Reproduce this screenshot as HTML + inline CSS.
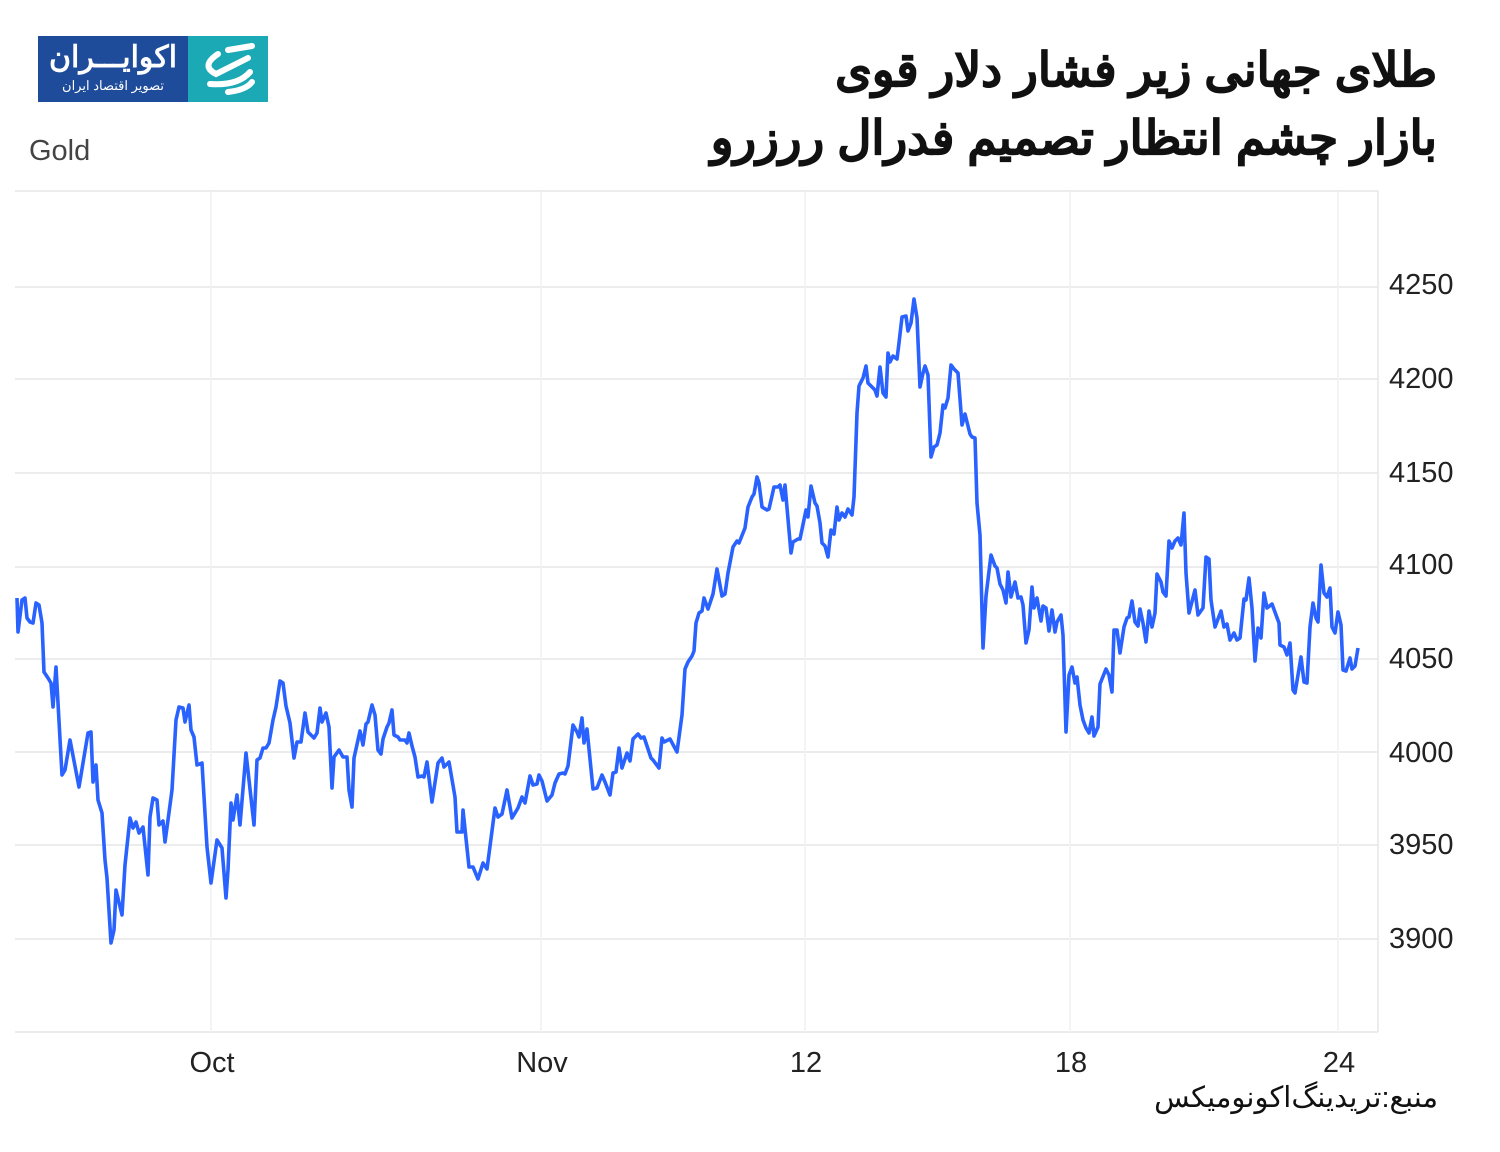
<!DOCTYPE html>
<html><head><meta charset="utf-8"><style>
body{margin:0;background:#fff;width:1500px;height:1152px;overflow:hidden;position:relative;font-family:"Liberation Sans","Noto Sans CJK SC",sans-serif}
.t{position:absolute;right:63px;font-weight:bold;font-size:47px;line-height:56px;color:#111;direction:rtl;white-space:nowrap;font-family:"Liberation Sans","Noto Sans CJK SC","WenQuanYi Zen Hei",sans-serif;-webkit-text-stroke:0.8px #111}
</style></head><body>
<div style="position:absolute;left:38px;top:36px;width:150px;height:66px;background:#1e4b9a;color:#fff;text-align:center">
<div style="font-size:30px;font-weight:bold;line-height:40px;margin-top:2px">اکوایـــران</div>
<div style="font-size:13px;line-height:16px">تصویر اقتصاد ایران</div></div>
<div style="position:absolute;left:188px;top:36px;width:80px;height:66px;background:#1aa9b5"></div>
<svg style="position:absolute;left:188px;top:36px" width="80" height="66"><g fill="none" stroke="#fff" stroke-width="6" stroke-linecap="round"><path d="M30 18 Q12 30 28 38 L60 22"/><path d="M22 48 Q50 50 62 36"/><path d="M40 56 Q58 54 64 46"/><path d="M40 14 L64 10"/></g></svg>
<div class="t" style="top:42px">طلای جهانی زیر فشار دلار قوی</div>
<div class="t" style="top:110px">بازار چشم انتظار تصمیم فدرال ررزرو</div>
<div style="position:absolute;left:29px;top:135px;font-size:29px;color:#444">Gold</div>
<svg style="position:absolute;left:0;top:0" width="1500" height="1152">
<g stroke="#e6e6e6" stroke-width="1.5">
<line x1="15" y1="191" x2="1378" y2="191"/>
<line x1="15" y1="287" x2="1378" y2="287"/><line x1="15" y1="379" x2="1378" y2="379"/><line x1="15" y1="473" x2="1378" y2="473"/><line x1="15" y1="567" x2="1378" y2="567"/><line x1="15" y1="659" x2="1378" y2="659"/><line x1="15" y1="752" x2="1378" y2="752"/><line x1="15" y1="845" x2="1378" y2="845"/><line x1="15" y1="939" x2="1378" y2="939"/>
<line x1="15" y1="1032" x2="1378" y2="1032"/><line x1="1378" y1="191" x2="1378" y2="1032"/>
</g>
<g stroke="#eef2f5" stroke-width="1.5"><line x1="211" y1="191" x2="211" y2="1032"/><line x1="541" y1="191" x2="541" y2="1032"/><line x1="805" y1="191" x2="805" y2="1032"/><line x1="1070" y1="191" x2="1070" y2="1032"/><line x1="1338" y1="191" x2="1338" y2="1032"/></g>
<g font-size="29" fill="#222" font-family="Liberation Sans,sans-serif">
<text x="1389" y="294">4250</text><text x="1389" y="388">4200</text><text x="1389" y="482">4150</text><text x="1389" y="574">4100</text><text x="1389" y="668">4050</text><text x="1389" y="762">4000</text><text x="1389" y="854">3950</text><text x="1389" y="948">3900</text>
<g text-anchor="middle"><text x="212" y="1072">Oct</text><text x="542" y="1072">Nov</text><text x="806" y="1072">12</text><text x="1071" y="1072">18</text><text x="1339" y="1072">24</text></g></g>
<polyline fill="none" stroke="#2962ff" stroke-width="3.6" stroke-linejoin="round" points="17,598 18,632 22,600 25,598 27,618 30,622 33,623 36,603 39,605 42,623 44,672 48,678 51,683 53,707 56,667 58,703 62,775 65,770 70,740 79,787 88,733 91,732 93,782 96,765 98,800 102,813 105,860 107,878 111,943 114,930 116,890 122,915 125,865 130,818 133,828 136,822 139,833 143,827 148,875 150,817 153,798 157,800 159,825 163,821 165,842 168,820 172,790 176,720 179,707 183,708 185,722 189,705 191,730 194,737 197,765 202,763 207,847 211,883 217,840 222,848 226,898 228,870 231,803 233,820 237,795 240,825 246,753 254,825 257,760 260,758 263,748 266,748 269,743 273,720 276,707 280,681 283,683 286,706 290,723 294,758 297,742 301,742 305,713 308,732 314,738 317,733 320,708 322,722 326,713 329,727 332,788 334,757 339,750 343,757 347,757 349,790 352,807 354,758 360,731 363,745 366,724 368,722 372,705 375,715 378,750 381,754 383,739 387,727 389,723 392,710 394,735 398,737 400,740 405,740 407,743 409,733 412,746 415,757 418,777 422,776 424,777 427,762 432,802 438,763 442,758 444,767 449,762 455,797 457,832 462,832 463,810 469,867 473,867 478,879 483,863 487,869 495,808 498,817 502,814 507,790 512,818 518,808 522,797 525,803 530,776 533,785 537,784 539,775 542,781 547,801 552,795 555,783 559,774 563,773 565,774 568,766 573,725 577,732 579,737 582,718 584,743 587,729 593,789 597,788 602,775 605,782 610,795 613,773 616,772 619,748 622,768 627,753 630,761 633,739 638,734 641,738 644,737 651,758 653,760 659,768 662,738 664,742 670,739 677,752 682,715 685,669 688,662 692,656 694,651 696,623 699,613 702,611 704,598 708,609 713,594 717,569 722,596 725,594 728,573 733,547 737,541 739,543 745,528 748,507 752,497 754,494 757,477 759,483 762,507 767,510 769,509 774,487 778,487 780,485 783,500 785,485 791,553 793,542 798,539 800,539 806,510 808,517 811,486 815,503 817,506 820,523 822,543 825,546 828,557 831,530 834,534 837,507 839,520 842,513 845,517 848,509 852,515 854,497 857,413 859,386 863,378 866,366 868,383 872,387 875,390 877,396 880,367 883,393 886,397 888,353 890,362 893,356 897,359 899,343 902,317 906,316 908,331 911,323 914,299 917,318 920,387 923,373 925,366 928,375 931,457 934,447 937,445 940,433 943,405 945,408 948,398 951,365 954,369 958,373 962,425 965,414 970,434 972,437 975,438 977,503 980,535 983,648 986,596 991,555 995,566 997,568 1000,584 1003,590 1006,603 1008,572 1011,597 1015,582 1018,598 1021,597 1023,605 1026,643 1029,630 1032,587 1034,608 1037,598 1041,621 1043,606 1046,608 1049,631 1052,610 1055,632 1057,622 1061,615 1063,635 1066,732 1069,675 1072,667 1075,683 1077,677 1080,705 1083,720 1086,728 1089,733 1092,717 1094,736 1098,727 1100,684 1106,669 1109,675 1112,692 1114,630 1117,630 1120,653 1124,627 1127,618 1129,617 1132,601 1135,622 1138,626 1140,609 1143,623 1146,642 1149,611 1152,627 1155,613 1157,574 1161,582 1163,592 1166,596 1169,541 1172,548 1175,541 1178,538 1181,545 1184,513 1186,573 1189,613 1195,590 1198,615 1203,608 1206,557 1209,559 1211,600 1215,627 1221,611 1224,627 1227,624 1230,640 1234,633 1237,640 1240,638 1244,599 1246,600 1249,578 1252,608 1255,661 1258,628 1261,638 1264,593 1267,608 1272,604 1279,623 1280,645 1284,647 1287,655 1290,643 1293,690 1295,693 1301,657 1304,682 1307,683 1310,627 1313,603 1316,618 1318,622 1321,565 1324,593 1327,597 1330,588 1332,627 1335,633 1338,612 1341,625 1343,670 1346,671 1350,658 1352,669 1355,666 1358,648"/>
</svg>
<div style="position:absolute;right:62px;top:1080px;font-size:29px;color:#111;direction:rtl;font-family:'Liberation Sans','Noto Sans CJK SC',sans-serif">منبع:تریدینگ‌اکونومیکس</div>
</body></html>
